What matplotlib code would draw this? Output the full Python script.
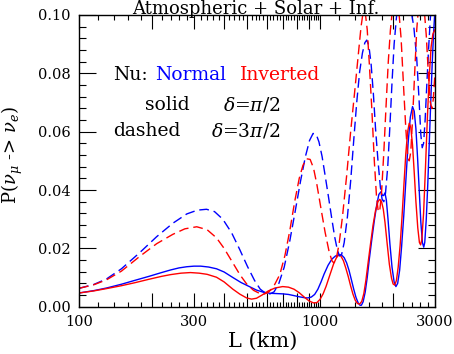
import matplotlib
matplotlib.use("Agg")
import matplotlib.pyplot as plt
from matplotlib.ticker import FixedLocator, FixedFormatter

plt.rcParams['font.family'] = ['DejaVu Serif']
plt.rcParams['mathtext.fontset'] = 'dejavuserif'

# ---- data ----
# Normal hierarchy, delta = pi/2 (blue solid)
L_ns = [100, 115, 130, 150, 170, 195, 220, 240, 260, 280, 300, 320, 345, 372, 400, 435, 470, 512,
        545, 580, 620, 660, 700, 740, 780, 820, 860, 890, 920, 950, 980, 1010, 1040, 1080, 1120,
        1160, 1200, 1230, 1260, 1290, 1320, 1350, 1380, 1410, 1440, 1465, 1485, 1510, 1540, 1570,
        1600, 1640, 1680, 1720, 1755, 1790, 1815, 1835, 1860, 1885, 1915, 1950, 1990, 2030, 2065,
        2100, 2140, 2180, 2225, 2270, 2320, 2370, 2420, 2460, 2500, 2540, 2580, 2620, 2660, 2694,
        2720, 2760, 2800, 2840, 2880, 2920, 2960, 3000]
P_ns = [.0047, .0055, .0064, .0077, .0090, .0104, .0117, .0126, .0133, .0137, .0139, .0139, .0136,
        .0130, .0119, .0100, .0083, .0068, .0057, .0050, .0046, .0045, .0044, .0042, .0038, .0034,
        .0031, .0030, .0033, .0042, .0060, .0085, .0112, .0142, .0163, .0174, .0178, .0177, .0168,
        .0150, .0124, .0092, .0060, .0032, .0013, .0005, .0005, .0017, .0050, .0100, .0160, .0230,
        .0295, .0350, .0385, .0394, .0382, .0381, .0390, .0365, .0300, .0215, .0135, .0085, .0069,
        .0080, .0125, .0205, .0310, .0430, .0560, .0650, .0686, .0670, .0610, .0510, .0400, .0290,
        .0220, .0204, .0220, .0300, .0420, .0560, .0700, .0830, .0940, .1020]

# Inverted hierarchy, delta = pi/2 (red solid)
L_is = [100, 115, 130, 150, 170, 195, 220, 240, 265, 290, 315, 340, 372, 400, 435, 465, 496, 520,
        545, 575, 610, 650, 700, 740, 780, 820, 860, 900, 940, 970, 1000, 1030, 1060, 1100, 1140,
        1170, 1195, 1220, 1250, 1280, 1310, 1340, 1370, 1400, 1430, 1460, 1490, 1520, 1550, 1580,
        1620, 1660, 1700, 1740, 1770, 1800, 1830, 1860, 1900, 1940, 1980, 2010, 2042, 2075, 2110,
        2150, 2190, 2230, 2270, 2310, 2345, 2380, 2420, 2460, 2500, 2545, 2585, 2615, 2645, 2690,
        2740, 2790, 2840, 2890, 2940, 3000]
P_is = [.0047, .0054, .0062, .0072, .0082, .0094, .0104, .0110, .0115, .0117, .0115, .0111, .0101,
        .0085, .0060, .0043, .0030, .0026, .0029, .0040, .0054, .0064, .0069, .0067, .0060, .0048,
        .0033, .0020, .0013, .0014, .0025, .0044, .0070, .0110, .0148, .0168, .0177, .0174, .0158,
        .0132, .0103, .0071, .0043, .0022, .0011, .0009, .0018, .0045, .0090, .0145, .0215, .0280,
        .0330, .0360, .0368, .0360, .0335, .0290, .0215, .0145, .0098, .0078, .0074, .0090, .0135,
        .0210, .0310, .0420, .0525, .0600, .0629, .0615, .0555, .0460, .0360, .0270, .0220, .0212,
        .0230, .0320, .0480, .0650, .0790, .0890, .0935, .0950]

# Normal hierarchy, delta = 3pi/2 (blue dashed)
L_nd = [100, 115, 130, 150, 179, 210, 245, 280, 310, 338, 365, 395, 430, 465, 500, 535, 565, 595,
        620, 645, 675, 710, 749, 790, 830, 870, 905, 936, 965, 990, 1020, 1050, 1085, 1120, 1150,
        1180, 1205, 1230, 1260, 1300, 1340, 1380, 1420, 1460, 1500, 1535, 1563, 1595, 1630, 1665,
        1700, 1740, 1780, 1810, 1840, 1870, 1910, 1950, 1990, 2030, 2080, 2140, 2210, 2290, 2370,
        2450, 2520, 2580, 2620, 2655, 2690, 2730, 2770, 2820, 2870, 2930, 3000]
P_nd = [.0063, .0076, .0095, .0130, .0186, .0240, .0286, .0318, .0331, .0334, .0326, .0300, .0253,
        .0195, .0138, .0090, .0060, .0046, .0044, .0051, .0080, .0135, .0225, .0330, .0430, .0515,
        .0570, .0594, .0590, .0565, .0515, .0450, .0375, .0300, .0240, .0195, .0174, .0180, .0220,
        .0310, .0430, .0570, .0700, .0805, .0870, .0905, .0914, .0895, .0830, .0730, .0610, .0500,
        .0410, .0368, .0360, .0390, .0480, .0620, .0770, .0900, .1000, .1070, .1090, .1080, .1030,
        .0960, .0850, .0700, .0590, .0545, .0560, .0640, .0750, .0880, .0990, .1070, .1100]

# Inverted hierarchy, delta = 3pi/2 (red dashed)
L_id = [100, 115, 130, 150, 179, 210, 245, 275, 308, 340, 372, 400, 435, 465, 496, 530, 560, 585,
        610, 640, 681, 715, 749, 785, 820, 850, 880, 910, 940, 970, 1010, 1050, 1090, 1120, 1140,
        1165, 1200, 1240, 1290, 1340, 1390, 1440, 1480, 1510, 1540, 1570, 1600, 1640, 1680, 1715,
        1745, 1770, 1800, 1840, 1880, 1920, 1960, 2010, 2060, 2120, 2170, 2220, 2270, 2310, 2345,
        2380, 2420, 2470, 2520, 2570, 2630, 2700, 2760, 2820, 2870, 2910, 2950, 3000]
P_id = [.0063, .0075, .0092, .0122, .0173, .0216, .0248, .0267, .0274, .0264, .0236, .0200, .0150,
        .0110, .0078, .0056, .0046, .0043, .0049, .0067, .0110, .0175, .0260, .0360, .0440, .0485,
        .0507, .0505, .0475, .0420, .0335, .0255, .0190, .0158, .0150, .0160, .0215, .0310, .0450,
        .0600, .0730, .0860, .0960, .1010, .1010, .0950, .0840, .0680, .0500, .0380, .0325, .0330,
        .0390, .0530, .0690, .0840, .0950, .1040, .1060, .1020, .0920, .0760, .0610, .0520, .0500,
        .0530, .0640, .0800, .0950, .1040, .1070, .1030, .0930, .0790, .0700, .0680, .0710, .0800]

x_major = [100, 200, 300, 400, 500, 600, 700, 800, 900, 1000, 2000, 3000]
x_labels = ['100', '', '300', '', '', '', '', '', '', '1000', '', '3000']
x_minor = [v for v in range(120, 1000, 20) if v % 100 != 0] + [v for v in range(1200, 3000, 200) if v != 2000]
y_major = [0.0, 0.02, 0.04, 0.06, 0.08, 0.10]

W, H = 454, 354
fig = plt.figure(figsize=(W / 100, H / 100), dpi=100)
ax = fig.add_axes([79 / W, 1 - 306.7 / H, (435 - 79) / W, (306.7 - 15) / H])

blue, red = '#0000ff', '#ff0000'
ax.plot(L_ns, P_ns, color=blue, lw=1.0)
ax.plot(L_is, P_is, color=red, lw=1.0)
ax.plot(L_nd, P_nd, color=blue, lw=1.0, dashes=(7, 3.5))
ax.plot(L_id, P_id, color=red, lw=1.0, dashes=(7, 3.5))

ax.set_xscale('log')
ax.set_xlim(100, 3000)
ax.set_ylim(0, 0.1)
ax.xaxis.set_major_locator(FixedLocator(x_major))
ax.xaxis.set_major_formatter(FixedFormatter(x_labels))
ax.xaxis.set_minor_locator(FixedLocator(x_minor))
ax.xaxis.set_minor_formatter(FixedFormatter([''] * len(x_minor)))
ax.set_yticks(y_major)
ax.set_yticklabels(['%.2f' % v for v in y_major])
ax.yaxis.set_minor_locator(FixedLocator([i * 0.004 for i in range(26)]))

ax.tick_params(axis='x', which='major', direction='in', length=10, width=0.8, top=True, labelsize=10.5, pad=6)
ax.tick_params(axis='x', which='minor', direction='in', length=3.6, width=0.8, top=True)
ax.tick_params(axis='y', which='major', direction='in', length=12, width=0.8, right=True, labelsize=10.5, pad=6)
ax.tick_params(axis='y', which='minor', direction='in', length=5, width=0.8, right=True)
for s in ax.spines.values():
    s.set_linewidth(1.0)

ax.set_xlabel('L (km)', fontsize=15)
ax.xaxis.set_label_coords((263 - 79) / 356, (306.7 - 332) / 291.7)
ax.set_ylabel(r'P($\nu_\mu$ -> $\nu_e$)', fontsize=13)
ax.yaxis.set_label_coords((25 - 79) / 356, (306.7 - 155) / 291.7)

def px(x, y):
    return x / W, 1 - y / H

fig.text(*px(256, 14), 'Atmospheric + Solar + Inf.', ha='center', va='baseline', fontsize=13)
fs = 13.5
fig.text(*px(113, 80), 'Nu:', ha='left', va='baseline', fontsize=fs, color='black')
fig.text(*px(155, 80), 'Normal', ha='left', va='baseline', fontsize=fs, color=blue)
fig.text(*px(240, 80), 'Inverted', ha='left', va='baseline', fontsize=fs, color=red)
fig.text(*px(145, 110), 'solid', ha='left', va='baseline', fontsize=fs)
fig.text(*px(223, 110), r'$\delta$=$\pi$/2', ha='left', va='baseline', fontsize=fs)
fig.text(*px(113, 136), 'dashed', ha='left', va='baseline', fontsize=fs)
fig.text(*px(211, 136), r'$\delta$=3$\pi$/2', ha='left', va='baseline', fontsize=fs)

fig.savefig('out.png', dpi=100)
